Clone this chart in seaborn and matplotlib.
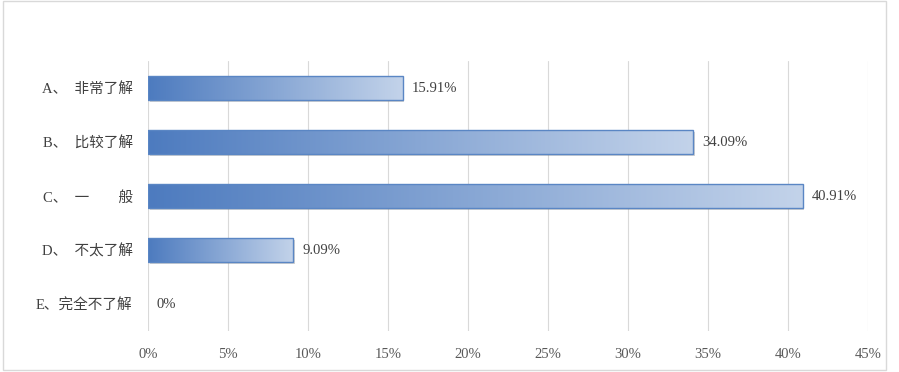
import numpy as np
import pandas as pd
import matplotlib
matplotlib.use('Agg')
from matplotlib import pyplot as plt
from matplotlib.colors import LinearSegmentedColormap
from matplotlib.patches import Rectangle
import matplotlib.patheffects as pe
import seaborn as sns

categories = ['A、  非常了解', 'B、  比较了解', 'C、  一　　般', 'D、  不太了解', 'E、完全不了解']
values = [15.91, 34.09, 40.91, 9.09, 0.0]
xticks = [0, 5, 10, 15, 20, 25, 30, 35, 40, 45]

sns.set_style('white')
plt.rcParams['font.family'] = ['Liberation Serif', 'Noto Sans CJK SC']

df = pd.DataFrame({'category': categories, 'value': values})

fig = plt.figure(figsize=(8.99, 3.72), dpi=100)
ax = fig.add_axes([148 / 899, 41 / 372, 720 / 899, 270 / 372])

sns.barplot(data=df, x='value', y='category', orient='h', color='#c4d4ea',
            width=0.44, linewidth=0, ax=ax)

grad = LinearSegmentedColormap.from_list('bar', ['#4d7bbf', '#c3d3ea'])
for p, v in zip(ax.patches, values):
    if v <= 0:
        continue
    x0, y0, w, h = p.get_x(), p.get_y(), p.get_width(), p.get_height()
    p.set_path_effects([pe.SimplePatchShadow(offset=(1.2, -1.5), shadow_rgbFace='#7f7f7f', alpha=0.35),
                        pe.Normal()])
    img = ax.imshow(np.linspace(0, 1, 256).reshape(1, -1), cmap=grad, aspect='auto',
                    extent=(x0, x0 + w, y0 + h, y0), zorder=2.5, interpolation='bicubic')
    img.set_clip_path(p)
    ax.add_patch(Rectangle((x0, y0), w, h, fill=False, edgecolor='#5a86c4', linewidth=1.0, zorder=3))

for i, v in enumerate(values):
    label = '%.2f%%' % v if v else '0%'
    ax.text(v + 0.55, i, label, va='center', ha='left', fontsize=10.5, color='#404040', zorder=4)

ax.set_xlim(0, 45)
ax.set_ylim(4.5, -0.5)
ax.set_xticks(xticks)
ax.set_xticklabels(['%d%%' % t for t in xticks])
ax.set_xlabel('')
ax.set_ylabel('')
ax.xaxis.grid(True, color='#d9d9d9', linewidth=0.8)
ax.yaxis.grid(False)
ax.set_axisbelow(True)
for s in ax.spines.values():
    s.set_visible(False)
ax.tick_params(axis='x', length=0, pad=12, labelsize=10.5, labelcolor='#595959')
ax.tick_params(axis='y', length=0, pad=11, labelsize=10.5, labelcolor='#404040')

fig.patches.append(Rectangle((3 / 899, 2 / 372), 883 / 899, 369 / 372, transform=fig.transFigure,
                             fill=False, edgecolor='#d9d9d9', linewidth=1.0))

fig.savefig('out.png', dpi=100)
plt.close('all')
